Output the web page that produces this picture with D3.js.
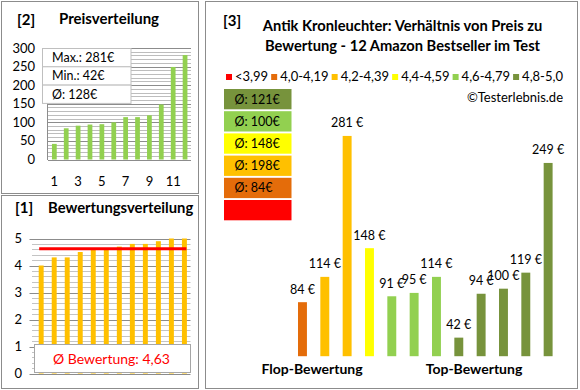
<!DOCTYPE html>
<html lang="de">
<head>
<meta charset="utf-8" />
<title>Antik Kronleuchter - Preis zu Bewertung</title>
<script src="https://cdn.jsdelivr.net/npm/d3@7"></script>
<style>
  body { margin: 0; background: #fff; }
  svg { display: block; font-family: Lato, "Open Sans", sans-serif; }
</style>
</head>
<body>
<div id="chart"></div>
<script type="text/javascript">
// product data, in the order of panel [3] (ascending rating)
var prices  = [84, 114, 281, 148, 91, 95, 114, 42, 94, 100, 119, 249];
var ratings = [4.0, 4.3, 4.3, 4.5, 4.6, 4.6, 4.7, 4.8, 4.8, 4.9, 5.0, 5.0];

// rating classes for the legend
var classLabels = ["<3,99", "4,0-4,19", "4,2-4,39", "4,4-4,59", "4,6-4,79", "4,8-5,0"];
var classLimits = [4.0, 4.2, 4.4, 4.6, 4.8];
var classColors = ["#ff0000", "#e46c0a", "#ffc000", "#ffff00", "#92d050", "#77933c"];

var priceTicks  = [0, 50, 100, 150, 200, 250, 300];
var ratingTicks = [0, 1, 2, 3, 4, 5];
var rankLabels  = ["1", "3", "5", "7", "9", "11"];

var W = 580, H = 390;
var svg = d3.select("#chart").append("svg").attr("width", W).attr("height", H);

function classOf(r) { return d3.bisectRight(classLimits, r); }
function euro(v) { return String(v).replace(".", ","); }

// panel frames
var frames = [[1, 1, 197, 192], [1, 195, 197, 193], [205, 1, 372, 387]];
svg.selectAll("rect.frame").data(frames).enter().append("rect")
   .attr("x", function(d){ return d[0] + 0.5; })
   .attr("y", function(d){ return d[1] + 0.5; })
   .attr("width", function(d){ return d[2]; })
   .attr("height", function(d){ return d[3]; })
   .attr("fill", "none").attr("stroke", "#8c8c8c");

/* ---------- [2] Preisverteilung ---------- */
var sortedPrices = prices.slice().sort(d3.ascending);
var x2 = d3.scaleBand().domain(d3.range(sortedPrices.length)).range([48.4, 191]).paddingInner(0.6).paddingOuter(0.3);
var y2 = d3.scaleLinear().domain([0, 300]).range([159.5, 48]);

var g2 = svg.append("g");
g2.selectAll("line.grid").data(d3.range(0, 301, 10)).enter().append("line")
  .attr("x1", 48).attr("x2", 191)
  .attr("y1", function(d){ return Math.round(y2(d)) + 0.5; })
  .attr("y2", function(d){ return Math.round(y2(d)) + 0.5; })
  .attr("stroke", function(d){ return d % 50 == 0 ? "#8c8c8c" : "#bdbdbd"; });
g2.append("line").attr("x1", 47.5).attr("x2", 47.5).attr("y1", 48).attr("y2", 160).attr("stroke", "#8c8c8c");
g2.selectAll("rect.bar").data(sortedPrices).enter().append("rect")
  .attr("x", function(d, i){ return x2(i); })
  .attr("width", x2.bandwidth())
  .attr("y", function(d){ return y2(d); })
  .attr("height", function(d){ return y2(0) - y2(d); })
  .attr("fill", "#92d050");
g2.selectAll("text.yl").data(priceTicks).enter().append("text")
  .attr("x", 35).attr("y", function(d){ return y2(d) + 4.5; })
  .attr("text-anchor", "end").attr("font-size", 13).text(function(d){ return d; });
g2.selectAll("text.xl").data(rankLabels).enter().append("text")
  .attr("x", function(d){ return x2(+d - 1) + x2.bandwidth() / 2; }).attr("y", 186)
  .attr("text-anchor", "middle").attr("font-size", 13).text(function(d){ return d; });

// stats box
var stats = ["Max.: " + d3.max(prices) + "€", "Min.: " + d3.min(prices) + "€", "Ø: " + Math.round(d3.mean(prices)) + "€"];
g2.selectAll("rect.stat").data(stats).enter().append("rect")
  .attr("x", 42.5).attr("y", function(d, i){ return 48.5 + i * 18.3; })
  .attr("width", 88.5).attr("height", 18.3)
  .attr("fill", "#fff").attr("stroke", "#bfbfbf");
g2.selectAll("text.stat").data(stats).enter().append("text")
  .attr("x", 52).attr("y", function(d, i){ return 62 + i * 18.3; })
  .attr("font-size", 12.5).text(function(d){ return d; });

svg.append("text").attr("x", 17).attr("y", 25).attr("font-size", 15).attr("font-weight", "bold").text("[2]");
svg.append("text").attr("x", 59).attr("y", 24).attr("font-size", 15).attr("font-weight", "bold").text("Preisverteilung");

/* ---------- [1] Bewertungsverteilung ---------- */
var x1 = d3.scaleBand().domain(d3.range(ratings.length)).range([34.8, 190.8]).paddingInner(0.62).paddingOuter(0.3);
var y1 = d3.scaleLinear().domain([0, 5]).range([373.5, 238.5]);

var g1 = svg.append("g");
g1.selectAll("line.grid").data(d3.range(0, 26)).enter().append("line")
  .attr("x1", function(d){ return d % 5 == 0 ? 29.5 : 32; }).attr("x2", 190.5)
  .attr("y1", function(d){ return Math.round(y1(d / 5)) + 0.5; })
  .attr("y2", function(d){ return Math.round(y1(d / 5)) + 0.5; })
  .attr("stroke", function(d){ return d % 5 == 0 ? "#8c8c8c" : "#c4c4c4"; });
g1.selectAll("rect.bar").data(ratings.slice().sort(d3.ascending)).enter().append("rect")
  .attr("x", function(d, i){ return x1(i); })
  .attr("width", x1.bandwidth())
  .attr("y", function(d){ return y1(d); })
  .attr("height", function(d){ return y1(0) - y1(d); })
  .attr("fill", "#ffc000");
g1.selectAll("text.yl").data(ratingTicks).enter().append("text")
  .attr("x", 22).attr("y", function(d){ return y1(d) + 4.5; })
  .attr("text-anchor", "end").attr("font-size", 13).text(function(d){ return d; });

var meanRating = d3.mean(ratings);
g1.append("line")
  .attr("x1", x1(0) + x1.bandwidth() / 2 - 2).attr("x2", x1(ratings.length - 1) + x1.bandwidth() / 2 + 2)
  .attr("y1", y1(meanRating)).attr("y2", y1(meanRating))
  .attr("stroke", "#ff0000").attr("stroke-width", 3);

g1.append("rect").attr("x", 34.5).attr("y", 344.5).attr("width", 156).attr("height", 28)
  .attr("fill", "#fff").attr("stroke", "#a6a6a6");
g1.append("text").attr("x", 111.5).attr("y", 363.5).attr("text-anchor", "middle")
  .attr("font-size", 14).attr("fill", "#ff0000")
  .text("Ø Bewertung: " + euro(meanRating.toFixed(2)));

svg.append("text").attr("x", 15).attr("y", 213).attr("font-size", 15).attr("font-weight", "bold").text("[1]");
svg.append("text").attr("x", 48).attr("y", 213).attr("font-size", 14.8).attr("font-weight", "bold").text("Bewertungsverteilung");

/* ---------- [3] Preis zu Bewertung ---------- */
var g3 = svg.append("g");
svg.append("text").attr("x", 223).attr("y", 26).attr("font-size", 15).attr("font-weight", "bold").text("[3]");
g3.selectAll("text.title").data(["Antik Kronleuchter: Verhältnis von Preis zu", "Bewertung - 12 Amazon Bestseller im Test"])
  .enter().append("text")
  .attr("x", 402.5).attr("y", function(d, i){ return 31 + i * 19.5; })
  .attr("text-anchor", "middle").attr("font-size", 14.7).attr("font-weight", "bold")
  .text(function(d){ return d; });

// legend, spread between 226 and 563
var leg = g3.selectAll("g.leg").data(classLabels).enter().append("g");
leg.append("rect").attr("width", 6).attr("height", 6).attr("y", 74)
   .attr("fill", function(d, i){ return classColors[i]; });
leg.append("text").attr("x", 9).attr("y", 81).attr("font-size", 13).text(function(d){ return d; });
var widths = [];
leg.each(function(){ widths.push(9 + d3.select(this).select("text").node().getComputedTextLength()); });
var gap = (563 - 226 - d3.sum(widths)) / (widths.length - 1);
var pos = 226;
leg.attr("transform", function(d, i){ var p = pos; pos += widths[i] + gap; return "translate(" + p + ",0)"; });

g3.append("text").attr("x", 563).attr("y", 101.5).attr("text-anchor", "end").attr("font-size", 13).text("©Testerlebnis.de");

// average price per rating class, best class on top
var avgRows = d3.range(classColors.length).reverse().map(function(c){
  var ps = prices.filter(function(p, i){ return classOf(ratings[i]) == c; });
  return { color: classColors[c], label: ps.length ? "Ø: " + Math.round(d3.mean(ps)) + "€" : "" };
});
g3.selectAll("rect.avg").data(avgRows).enter().append("rect")
  .attr("x", 224).attr("y", function(d, i){ return 89 + i * 22.2; })
  .attr("width", 67.5).attr("height", 20.3)
  .attr("fill", function(d){ return d.color; });
g3.selectAll("text.avg").data(avgRows).enter().append("text")
  .attr("x", 234.5).attr("y", function(d, i){ return 103.5 + i * 22.2; })
  .attr("font-size", 12.5).text(function(d){ return d.label; });

var x3 = d3.scaleBand().domain(d3.range(prices.length)).range([291.3, 559.3]).paddingInner(0.6).paddingOuter(0.3);
var y3 = d3.scaleLinear().domain([20, 300]).range([356.2, 119.9]);

g3.selectAll("rect.bar").data(prices).enter().append("rect")
  .attr("x", function(d, i){ return x3(i); })
  .attr("width", x3.bandwidth())
  .attr("y", function(d){ return y3(d); })
  .attr("height", function(d){ return y3(20) - y3(d); })
  .attr("fill", function(d, i){ return classColors[classOf(ratings[i])]; });
g3.selectAll("text.val").data(prices).enter().append("text")
  .attr("x", function(d, i){ return x3(i) + x3.bandwidth() / 2; })
  .attr("y", function(d){ return y3(d) - 8.5; })
  .attr("text-anchor", "middle").attr("font-size", 12.5)
  .text(function(d){ return d + " €"; });

g3.selectAll("text.flop").data([["Flop-Bewertung", 312], ["Top-Bewertung", 474]]).enter().append("text")
  .attr("x", function(d){ return d[1]; }).attr("y", 374)
  .attr("text-anchor", "middle").attr("font-size", 14).attr("font-weight", "bold")
  .text(function(d){ return d[0]; });
</script>
</body>
</html>
